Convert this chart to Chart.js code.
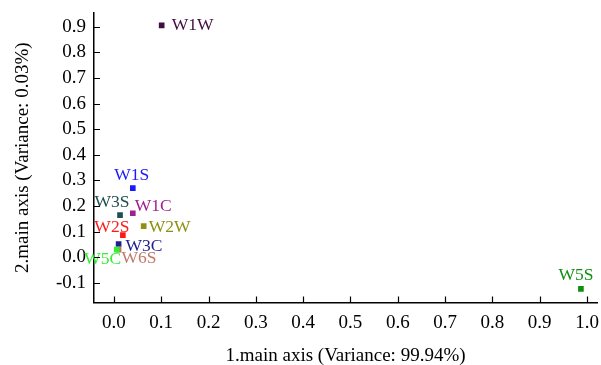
<!DOCTYPE html>
<html>
<head>
<meta charset="utf-8">
<script src="https://cdn.jsdelivr.net/npm/chart.js@4"></script>
<style>
  body { margin: 0; background: #fff; }
  canvas { display: block; }
</style>
</head>
<body>
<canvas id="pca" width="601" height="365"></canvas>
<script>
// Datos
const names   = ['W1W', 'W1S', 'W1C', 'W3S', 'W2W', 'W2S', 'W3C', 'W6S', 'W5C', 'W5S'];
const xValues = [0.101, 0.040, 0.040, 0.013, 0.063, 0.019, 0.010, 0.010, 0.006, 0.987];
const yValues = [0.905, 0.270, 0.172, 0.165, 0.122, 0.087, 0.052, 0.030, 0.030, -0.123];
const xTicks  = [0.0, 0.1, 0.2, 0.3, 0.4, 0.5, 0.6, 0.7, 0.8, 0.9, 1.0];
const yTicks  = [-0.1, 0.0, 0.1, 0.2, 0.3, 0.4, 0.5, 0.6, 0.7, 0.8, 0.9];

// Estilo por punto
const colors = ['#3f0f3f', '#1a1aff', '#a0208f', '#1f4f4f', '#8f8f10',
                '#ff1a1a', '#1f1f8f', '#c07a6a', '#33ee33', '#108f10'];
// desplazamiento de etiqueta: [dx, dy, align]
const labelPos = [
  [10, 0, 'left'], [-1, -13, 'center'], [2, -7, 'left'], [-8, -13, 'center'],
  [5, 1, 'left'], [-11, -8, 'center'], [7, 2, 'left'], [3, 9, 'left'],
  [-14, 10, 'center'], [-5, -14, 'center']
];

const FONT = 'Liberation Serif';

// Etiquetas de texto junto a cada punto
const pointLabels = {
  id: 'pointLabels',
  afterDatasetsDraw(chart) {
    const ctx = chart.ctx;
    const meta = chart.getDatasetMeta(0);
    ctx.save();
    ctx.font = `17.5px "${FONT}"`;
    ctx.textBaseline = 'middle';
    meta.data.forEach((pt, i) => {
      const [dx, dy, align] = labelPos[i];
      ctx.fillStyle = colors[i];
      ctx.textAlign = align;
      ctx.fillText(names[i], pt.x + dx, pt.y + dy);
    });
    ctx.restore();
  }
};

// Marcas de eje hacia dentro
const innerTicks = {
  id: 'innerTicks',
  afterDraw(chart) {
    const ctx = chart.ctx;
    const xs = chart.scales.x, ys = chart.scales.y;
    const area = chart.chartArea;
    ctx.save();
    ctx.strokeStyle = '#000';
    ctx.lineWidth = 1.2;
    ctx.beginPath();
    xTicks.forEach(v => {
      const px = Math.round(xs.getPixelForValue(v)) + 0.5;
      ctx.moveTo(px, area.bottom);
      ctx.lineTo(px, area.bottom - 6);
    });
    yTicks.forEach(v => {
      const py = Math.round(ys.getPixelForValue(v)) + 0.5;
      ctx.moveTo(area.left, py);
      ctx.lineTo(area.left + 6, py);
    });
    ctx.stroke();
    ctx.restore();
  }
};

new Chart(document.getElementById('pca'), {
  type: 'scatter',
  data: {
    datasets: [{
      data: xValues.map((x, i) => ({ x, y: yValues[i] })),
      pointStyle: 'rect',
      pointRadius: 4,
      pointBorderWidth: 0,
      pointBackgroundColor: colors
    }]
  },
  options: {
    responsive: false,
    animation: false,
    layout: { padding: { top: 13, right: 0, left: 0, bottom: 0 } },
    plugins: {
      legend: { display: false },
      tooltip: { enabled: false }
    },
    scales: {
      x: {
        type: 'linear',
        min: -0.042,
        max: 1.021,
        afterBuildTicks: (scale) => { scale.ticks = xTicks.map(v => ({ value: v })); },
        afterFit: (scale) => {
          scale.height = 62.5;
          scale.paddingLeft = 0;
          scale.paddingRight = 0;
        },
        grid: { display: false, drawTicks: false },
        border: { display: true, color: '#000', width: 1.5 },
        ticks: {
          padding: 9,
          color: '#000',
          maxRotation: 0,
          font: { family: FONT, size: 19 },
          callback: (v) => v.toFixed(1)
        },
        title: {
          display: true,
          text: '1.main axis (Variance: 99.94%)',
          color: '#000',
          font: { family: FONT, size: 19 },
          padding: { top: 0, bottom: -2 }
        }
      },
      y: {
        type: 'linear',
        min: -0.176,
        max: 0.953,
        afterBuildTicks: (scale) => { scale.ticks = yTicks.map(v => ({ value: v })); },
        afterFit: (scale) => {
          scale.width = 94;
          scale.paddingTop = 0;
          scale.paddingBottom = 0;
        },
        grid: { display: false, drawTicks: false },
        border: { display: true, color: '#000', width: 1.5 },
        ticks: {
          padding: 8,
          color: '#000',
          font: { family: FONT, size: 19 },
          callback: (v) => v.toFixed(1)
        },
        title: {
          display: true,
          text: '2.main axis (Variance: 0.03%)',
          color: '#000',
          font: { family: FONT, size: 19 },
          padding: { top: 12, bottom: 0 }
        }
      }
    }
  },
  plugins: [pointLabels, innerTicks]
});
</script>
</body>
</html>
